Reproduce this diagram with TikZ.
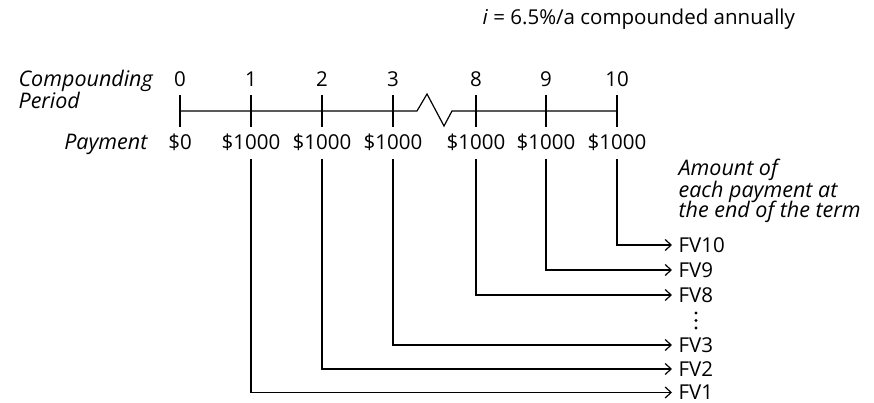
\documentclass[tikz,border=0pt]{standalone}
\usepackage{fontspec}
\setmainfont{Open Sans}
\usetikzlibrary{arrows.meta}
\begin{document}
\begin{tikzpicture}[x=1pt,y=-1pt,line width=1.2pt,
  txt/.style={font=\fontsize{20.5}{22}\selectfont,inner sep=0pt},
  itxt/.style={font=\fontsize{21.5}{22}\selectfont\itshape,inner sep=0pt},
  fvlbl/.style={txt,anchor=west,inner xsep=6pt},
  conn/.style={-{Straight Barb[length=6pt,width=11pt,line width=1.2pt]}}]
\useasboundingbox (0,0) rectangle (874,403);

% header
\node[txt,anchor=base west] (rate) at (482,25) {\textit{i} = 6.5\%/a compounded annually};

% left labels
\node[itxt,anchor=base west] (cp) at (18,87) {Compounding};
\node[itxt,anchor=base west] (per) at (18,109) {Period};
\node[itxt,anchor=base east] (pay) at (148,150) {Payment};

% ticks and period numbers
\foreach \n/\x in {0/180,1/251,2/322,3/393,8/476,9/546,10/617}{
  \coordinate (t\n) at (\x,111);
  \draw (\x,95) -- (\x,127);
  \node[txt,anchor=base] (n\n) at (\x,87) {\n};
}
% payments
\foreach \n/\x in {1/251,2/322,3/393,8/476,9/546,10/617}{
  \node[txt,anchor=base] (p\n) at (\x,150) {\$1000};
}
\node[txt,anchor=base] (p0) at (180,150) {\$0};

% timeline with break
\draw (t0) -- (t3) -- (417,111) -- (427,94) -- (444,126) -- (452,111) -- (t10);

% result labels
\node[itxt,anchor=base west] (amt) at (678,176) {Amount of};
\node[itxt,anchor=base west] (amt2) at (678,197) {each payment at};
\node[itxt,anchor=base west] (amt3) at (678,218) {the end of the term};

\node[fvlbl] (fv10) at (672,245) {FV10};
\node[fvlbl] (fv9) at (672,270) {FV9};
\node[fvlbl] (fv8) at (672,295) {FV8};
\node[fvlbl] (fv3) at (672,345) {FV3};
\node[fvlbl] (fv2) at (672,369) {FV2};
\node[fvlbl] (fv1) at (672,392.5) {FV1};

\foreach \y in {313,320.5,328}{\fill (696,\y) circle (1.7pt);}

% connectors
\foreach \n in {1,2,3,8,9,10}{
  \draw[conn] (p\n.base) ++(0,9) |- (fv\n.west);
}
\end{tikzpicture}
\end{document}
